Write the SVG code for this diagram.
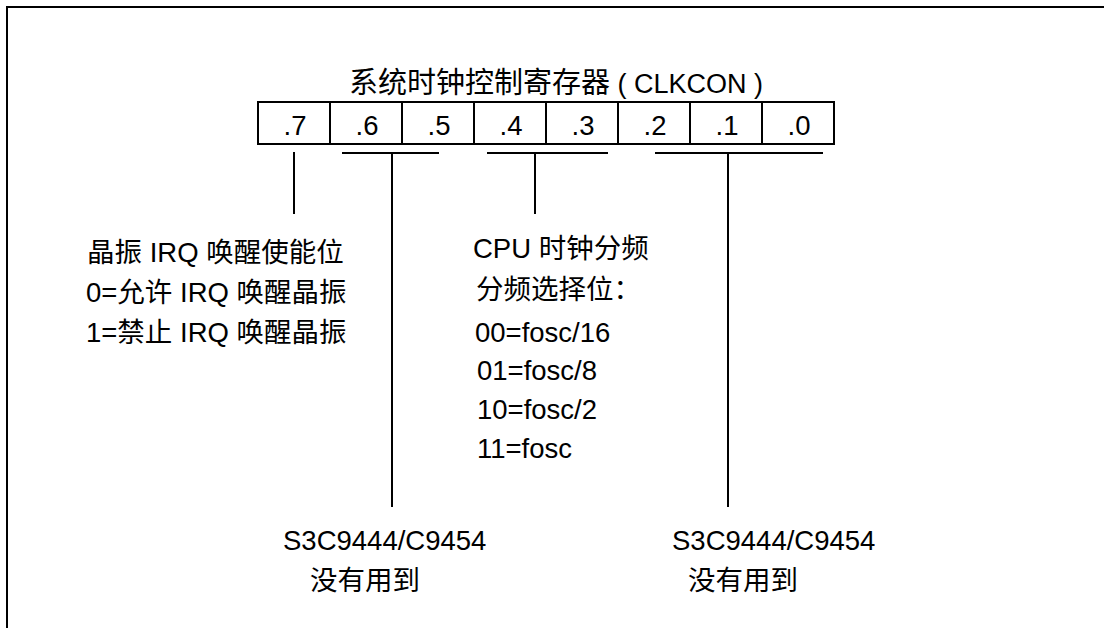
<svg xmlns="http://www.w3.org/2000/svg" width="1104" height="628" viewBox="0 0 1104 628">
<style>
  text { font-family: "Liberation Sans", "Noto Sans CJK SC", sans-serif; fill: #000; }
  .t { font-size: 27.5px; }
  .c { font-size: 27.5px; text-anchor: middle; }
  .ln { stroke: #000; stroke-width: 2; fill: none; }
</style>
<rect width="1104" height="628" fill="#fff"/>
<path class="ln" d="M7 628 V7 H1104"/>
<g id="title"><text x="349" y="93" style="font-size:27px"><tspan style="font-size:29px">系统时钟控制寄存器</tspan> ( CLKCON )</text></g>
<g id="register">
  <rect class="ln" x="258" y="102" width="576" height="42"/>
  <path class="ln" d="M330 102V144M402 102V144M474 102V144M546 102V144M618 102V144M690 102V144M762 102V144"/>
  <text class="c" x="295" y="135">.7</text>
  <text class="c" x="367" y="135">.6</text>
  <text class="c" x="439" y="135">.5</text>
  <text class="c" x="511" y="135">.4</text>
  <text class="c" x="583" y="135">.3</text>
  <text class="c" x="655" y="135">.2</text>
  <text class="c" x="727" y="135">.1</text>
  <text class="c" x="799" y="135">.0</text>
</g>
<g id="connectors">
  <path class="ln" d="M294 152V214"/>
  <path class="ln" d="M342 153H439M392 153V507"/>
  <path class="ln" d="M487 153H608M535 153V214"/>
  <path class="ln" d="M655 153H823M728 153V507"/>
</g>
<g id="bit7">
  <text class="t" x="87" y="262">晶振 IRQ 唤醒使能位</text>
  <text class="t" x="86" y="302">0=允许 IRQ 唤醒晶振</text>
  <text class="t" x="86" y="342">1=禁止 IRQ 唤醒晶振</text>
</g>
<g id="bits43">
  <text class="t" x="473" y="258">CPU 时钟分频</text>
  <text class="t" x="476" y="299">分频选择位：</text>
  <text class="t" x="475" y="342">00=fosc/16</text>
  <text class="t" x="477" y="380">01=fosc/8</text>
  <text class="t" x="477" y="419">10=fosc/2</text>
  <text class="t" x="477" y="458">11=fosc</text>
</g>
<g id="bits65">
  <text class="t" x="283" y="550">S3C9444/C9454</text>
  <text class="t" x="310" y="590">没有用到</text>
</g>
<g id="bits210">
  <text class="t" x="672" y="550">S3C9444/C9454</text>
  <text class="t" x="688" y="590">没有用到</text>
</g>
</svg>
